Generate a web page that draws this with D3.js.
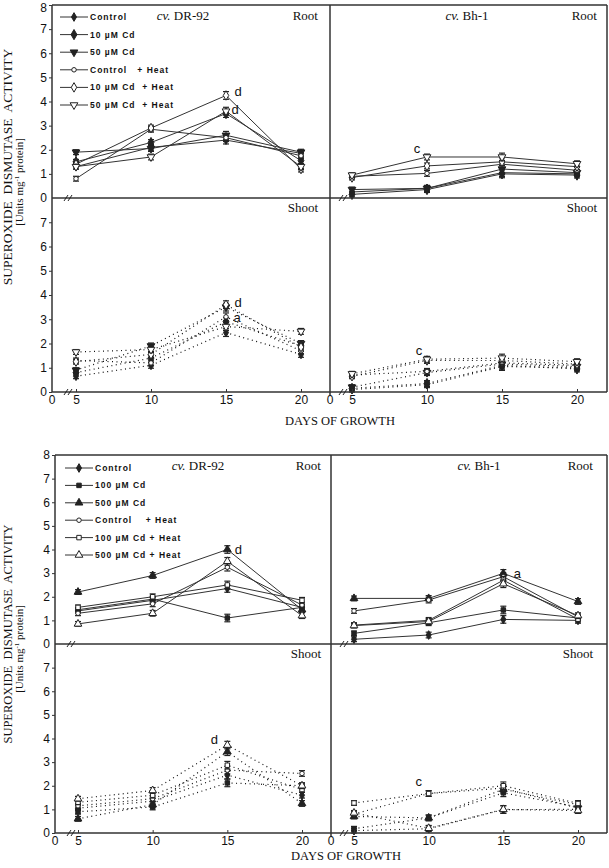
<!DOCTYPE html>
<html><head><meta charset="utf-8">
<script src="https://cdn.jsdelivr.net/npm/d3@7"></script>
<style>body{margin:0;background:#fff} svg{display:block}</style>
</head><body>
<svg id="c" width="609" height="868"></svg>
<script>
// ---------- DATA ----------
const days = [5, 10, 15, 20];
const yTicksRoot = [0, 1, 2, 3, 4, 5, 6, 7, 8];
const yTicksShoot = [0, 1, 2, 3, 4, 5, 6, 7];
const xTickLabels = ["0", "5", "10", "15", "20"];
const yLabel = "SUPEROXIDE  DISMUTASE  ACTIVITY";
const xLabel = "DAYS OF GROWTH";

const legendTop = ["Control", "10 µM Cd", "50 µM Cd", "Control   + Heat", "10 µM Cd  + Heat", "50 µM Cd  + Heat"];
const legendBottom = ["Control", "100 µM Cd", "500 µM Cd", "Control    + Heat", "100 µM Cd + Heat", "500 µM Cd + Heat"];

// Top figure (10/50 µM Cd) — series order follows legendTop
const topDR92Root = [
  [1.3, 2.1, 2.4, 1.85],
  [1.5, 2.3, 3.5, 1.55],
  [1.9, 2.05, 2.6, 1.9],
  [0.8, 2.85, 2.5, 1.75],
  [1.4, 2.9, 4.25, 1.2],
  [1.3, 1.7, 3.6, 1.3]
];
const topBh1Root = [
  [0.25, 0.4, 1.05, 1.0],
  [0.15, 0.35, 1.0, 0.95],
  [0.35, 0.4, 1.2, 1.05],
  [0.9, 1.02, 1.4, 1.15],
  [0.85, 1.33, 1.5, 1.3],
  [0.95, 1.7, 1.7, 1.42]
];
const topDR92Shoot = [
  [0.65, 1.1, 2.45, 1.55],
  [0.8, 1.4, 2.9, 1.9],
  [0.9, 1.9, 3.5, 2.0],
  [1.3, 1.2, 3.1, 1.7],
  [1.25, 1.55, 3.6, 1.85],
  [1.65, 1.75, 2.7, 2.5]
];
const topBh1Shoot = [
  [0.1, 0.3, 1.05, 1.0],
  [0.15, 0.35, 1.1, 0.95],
  [0.2, 0.8, 1.15, 1.05],
  [0.7, 0.85, 1.2, 1.1],
  [0.65, 1.3, 1.3, 1.15],
  [0.75, 1.35, 1.4, 1.25]
];
// Bottom figure (100/500 µM Cd) — series order follows legendBottom
const botDR92Root = [
  [1.4, 1.85, 2.35, 1.55],
  [1.45, 1.9, 1.1, 1.55],
  [2.2, 2.9, 4.0, 1.45],
  [1.3, 1.7, 3.25, 1.65],
  [1.55, 2.0, 2.5, 1.85],
  [0.85, 1.3, 3.5, 1.2]
];
const botBh1Root = [
  [0.2, 0.38, 1.04, 1.0],
  [0.45, 0.9, 1.44, 1.1],
  [1.93, 1.93, 2.99, 1.8],
  [1.4, 1.86, 2.85, 1.15],
  [0.8, 1.0, 2.7, 1.05],
  [0.78, 0.95, 2.55, 1.2]
];
const botDR92Shoot = [
  [1.05, 1.35, 2.45, 1.6],
  [0.9, 1.1, 2.12, 2.0],
  [0.6, 1.2, 3.44, 1.25],
  [1.15, 1.45, 2.66, 2.52],
  [1.3, 1.6, 2.87, 1.84],
  [1.45, 1.8, 3.72, 2.0]
];
const botBh1Shoot = [
  [0.1, 0.18, 0.99, 1.0],
  [0.18, 0.64, 1.7, 1.1],
  [0.7, 0.64, 1.85, 1.2],
  [0.8, 1.67, 1.9, 1.05],
  [1.27, 1.67, 2.0, 1.25],
  [0.85, 0.2, 1.0, 0.95]
];
// error bar half-widths (per day)
const errTop = [0.1, 0.12, 0.16, 0.12];
const errBot = [0.1, 0.12, 0.16, 0.12];

// annotations: [day, value, label, dx]
const annTopDR92Root = [[15, 4.4, "d", 12], [15, 3.65, "d", 9]];
const annTopBh1Root = [[10, 2.07, "c", -10]];
const annTopDR92Shoot = [[15, 3.69, "d", 12], [15, 3.07, "a", 11]];
const annTopBh1Shoot = [[10, 1.7, "c", -8]];
const annBotDR92Root = [[15, 3.98, "d", 11]];
const annBotBh1Root = [[15, 3.0, "a", 14]];
const annBotDR92Shoot = [[15, 3.95, "d", -13]];
const annBotBh1Shoot = [[10, 2.2, "c", -10]];

// ---------- DRAW ----------
const svg = d3.select("#c");
const INK = "#222";

const symTop = [
  {t: d3.symbolDiamond, fill: true, rot: 0, s: 22},
  {t: d3.symbolDiamond, fill: true, rot: 0, s: 30},
  {t: d3.symbolTriangle, fill: true, rot: 180, s: 26},
  {t: d3.symbolCircle, fill: false, rot: 0, s: 16},
  {t: d3.symbolDiamond, fill: false, rot: 0, s: 26},
  {t: d3.symbolTriangle, fill: false, rot: 180, s: 26}
];
const symBot = [
  {t: d3.symbolDiamond, fill: true, rot: 0, s: 22},
  {t: d3.symbolSquare, fill: true, rot: 0, s: 20},
  {t: d3.symbolTriangle, fill: true, rot: 0, s: 26},
  {t: d3.symbolCircle, fill: false, rot: 0, s: 16},
  {t: d3.symbolSquare, fill: false, rot: 0, s: 20},
  {t: d3.symbolTriangle, fill: false, rot: 0, s: 26}
];

function drawSymbol(g, sym, x, y) {
  g.append("path")
    .attr("d", d3.symbol().type(sym.t).size(sym.s)())
    .attr("transform", `translate(${x},${y}) rotate(${sym.rot})`)
    .attr("fill", sym.fill ? INK : "#fff")
    .attr("stroke", INK).attr("stroke-width", 1);
}

function drawSeries(g, data, x, y, syms, dotted, errs) {
  const line = d3.line().x((d, i) => x(days[i])).y(d => y(d));
  data.forEach((s, k) => {
    g.append("path").attr("d", line(s)).attr("fill", "none")
      .attr("stroke", dotted ? "#111" : "#333")
      .attr("stroke-width", dotted ? 1.2 : 1)
      .attr("stroke-dasharray", dotted ? "1,3.5" : null);
  });
  data.forEach((s, k) => {
    s.forEach((v, i) => {
      const cx = x(days[i]);
      const e = errs[i];
      g.append("line").attr("x1", cx).attr("x2", cx).attr("y1", y(v - e)).attr("y2", y(v + e))
        .attr("stroke", INK).attr("stroke-width", 1);
      [v - e, v + e].forEach(w => g.append("line").attr("x1", cx - 3).attr("x2", cx + 3)
        .attr("y1", y(w)).attr("y2", y(w)).attr("stroke", INK).attr("stroke-width", 1.2));
      drawSymbol(g, syms[k], cx, y(v));
    });
  });
}

function breakMark(g, x, y) {
  [0, 4].forEach(o => g.append("line")
    .attr("x1", x + o - 2).attr("y1", y + 3).attr("x2", x + o + 2).attr("y2", y - 3)
    .attr("stroke", INK).attr("stroke-width", 1));
}

function annotate(g, anns, x, y) {
  anns.forEach(a => g.append("text").attr("x", x(a[0]) + a[3]).attr("y", y(a[1]))
    .attr("dominant-baseline", "central").attr("text-anchor", "middle")
    .attr("font-family", "Liberation Sans, Arial, sans-serif").attr("font-size", 13)
    .attr("fill", "#111").text(a[2]));
}

function figure(cfg) {
  const g = svg.append("g");
  const xL = d3.scaleLinear().domain([5, 20]).range(cfg.xLr);
  const xR = d3.scaleLinear().domain([5, 20]).range(cfg.xRr);
  const yRoot = d3.scaleLinear().domain([0, 8]).range([cfg.mid, cfg.top]);
  const yShoot = d3.scaleLinear().domain([0, 8]).range([cfg.bot, cfg.mid]);

  // series
  drawSeries(g, cfg.dRootL, xL, yRoot, cfg.syms, false, cfg.err);
  drawSeries(g, cfg.dRootR, xR, yRoot, cfg.syms, false, cfg.err);
  drawSeries(g, cfg.dShootL, xL, yShoot, cfg.syms, true, cfg.err);
  drawSeries(g, cfg.dShootR, xR, yShoot, cfg.syms, true, cfg.err);

  // frame
  const fr = g.append("g").attr("stroke", "#333").attr("stroke-width", 1.5).attr("fill", "none");
  fr.append("line").attr("x1", cfg.x0).attr("x2", cfg.x0).attr("y1", cfg.top).attr("y2", cfg.bot);
  fr.append("line").attr("x1", cfg.x0).attr("x2", cfg.x1).attr("y1", cfg.top).attr("y2", cfg.top);
  fr.append("line").attr("x1", cfg.x1).attr("x2", cfg.x1).attr("y1", cfg.top).attr("y2", cfg.bot);
  fr.append("line").attr("x1", cfg.xm).attr("x2", cfg.xm).attr("y1", cfg.top).attr("y2", cfg.bot + 3);
  fr.append("line").attr("x1", cfg.x0).attr("x2", cfg.x1).attr("y1", cfg.mid).attr("y2", cfg.mid);
  fr.append("line").attr("x1", cfg.x0).attr("x2", cfg.x1).attr("y1", cfg.bot).attr("y2", cfg.bot);

  // break marks
  [cfg.mid, cfg.bot].forEach(yy => {
    breakMark(g, cfg.x0 + 14, yy);
    breakMark(g, cfg.xm + 11, yy);
  });

  // y axes
  const tickFont = "Liberation Sans, Arial, sans-serif";
  const ax1 = g.append("g").attr("transform", `translate(${cfg.x0},0)`)
    .call(d3.axisLeft(yRoot).tickValues(yTicksRoot.slice(1)).tickSize(3).tickPadding(2).tickFormat(d3.format("d")));
  const ax2 = g.append("g").attr("transform", `translate(${cfg.x0},0)`)
    .call(d3.axisLeft(yShoot).tickValues(yTicksShoot).tickSize(3).tickPadding(2).tickFormat(d3.format("d")));
  [ax1, ax2].forEach(a => {
    a.select(".domain").remove();
    a.selectAll("text").attr("font-family", tickFont).attr("font-size", 12).attr("fill", "#111");
    a.selectAll("line").attr("stroke", "#333");
  });
  // keep the topmost "8" label fully inside the page
  ax1.selectAll("text").filter(d => d === 8).attr("dy", cfg.top < 8 ? "0.55em" : "0.32em");
  // root "0" label at the divider
  g.append("text").attr("x", cfg.x0 - 5).attr("y", yRoot(0)).attr("dy", "0.32em")
    .attr("text-anchor", "end").attr("font-family", tickFont).attr("font-size", 12).attr("fill", "#111").text(yTicksRoot[0]);

  // x axes (shoot panels)
  [[xL, cfg.x0], [xR, cfg.xm]].forEach(([xs, origin]) => {
    const ax = g.append("g").attr("transform", `translate(0,${cfg.bot})`)
      .call(d3.axisBottom(xs).tickValues(days).tickSize(-3).tickPadding(3).tickFormat((d, i) => xTickLabels[i + 1]));
    ax.select(".domain").remove();
    ax.selectAll("text").attr("font-family", tickFont).attr("font-size", 12).attr("fill", "#111");
    ax.selectAll("line").attr("stroke", "#333");
    g.append("text").attr("x", origin).attr("y", cfg.bot + 3).attr("dy", "0.71em")
      .attr("text-anchor", "middle").attr("font-family", tickFont).attr("font-size", 12).attr("fill", "#111").text(xTickLabels[0]);
  });

  // titles
  const serif = "Liberation Serif, Times New Roman, serif";
  function cv(xc, yb, name) {
    const t = g.append("text").attr("x", xc).attr("y", yb).attr("text-anchor", "middle")
      .attr("font-family", serif).attr("font-size", 13).attr("fill", "#111");
    t.append("tspan").attr("font-style", "italic").text("cv.");
    t.append("tspan").text(" " + name);
  }
  cv(cfg.cvL, cfg.top + 15, "DR-92");
  cv(cfg.cvR, cfg.top + 15, "Bh-1");
  [[cfg.rootL, cfg.top + 15, "Root"], [cfg.rootR, cfg.top + 15, "Root"],
   [cfg.rootL, cfg.mid + 14, "Shoot"], [cfg.rootR, cfg.mid + 14, "Shoot"]].forEach(([xx, yy, s]) =>
    g.append("text").attr("x", xx).attr("y", yy).attr("text-anchor", "end")
      .attr("font-family", serif).attr("font-size", 13).attr("fill", "#111").text(s));

  // annotations
  annotate(g, cfg.aRootL, xL, yRoot);
  annotate(g, cfg.aRootR, xR, yRoot);
  annotate(g, cfg.aShootL, xL, yShoot);
  annotate(g, cfg.aShootR, xR, yShoot);

  // legend
  cfg.legend.forEach((lab, i) => {
    const yy = cfg.legY + i * cfg.legStep;
    g.append("line").attr("x1", cfg.legX).attr("x2", cfg.legX + 28).attr("y1", yy).attr("y2", yy)
      .attr("stroke", "#333").attr("stroke-width", 1);
    drawSymbol(g, cfg.syms[i], cfg.legX + 14, yy);
    g.append("text").attr("x", cfg.legX + 30).attr("y", yy).attr("dy", "0.35em")
      .attr("font-family", "Liberation Sans, Arial, sans-serif").attr("font-weight", "bold")
      .attr("font-size", 8.5).attr("letter-spacing", 1).attr("xml:space", "preserve")
      .style("white-space", "pre").attr("fill", "#111").text(lab);
  });

  // axis titles
  g.append("text").attr("transform", `translate(${cfg.yLabX},${cfg.yLabY}) rotate(-90)`)
    .attr("text-anchor", "middle").attr("font-family", serif).attr("font-size", cfg.yLabSize)
    .style("white-space", "pre").attr("fill", "#111").text(yLabel);
  const sub = g.append("text").attr("transform", `translate(${cfg.yLabX + 11},${cfg.yLabY + 15}) rotate(-90)`)
    .attr("text-anchor", "middle").attr("font-family", serif).attr("font-size", 11).attr("fill", "#111");
  sub.append("tspan").text("[Units mg");
  sub.append("tspan").attr("font-size", 7).attr("dy", -4).text("-1");
  sub.append("tspan").attr("dy", 4).text(" protein]");
  g.append("text").attr("x", cfg.xLabX).attr("y", cfg.xLabY).attr("text-anchor", "middle")
    .attr("font-family", serif).attr("font-size", 12.5).attr("fill", "#111").text(xLabel);
}

figure({
  x0: 52, xm: 330, x1: 607, top: 5, mid: 198, bot: 392,
  xLr: [76, 301], xRr: [352, 577],
  dRootL: topDR92Root, dRootR: topBh1Root, dShootL: topDR92Shoot, dShootR: topBh1Shoot,
  aRootL: annTopDR92Root, aRootR: annTopBh1Root, aShootL: annTopDR92Shoot, aShootR: annTopBh1Shoot,
  syms: symTop, err: errTop, legend: legendTop, legX: 60, legY: 17, legStep: 17.6,
  cvL: 183, cvR: 467, rootL: 318, rootR: 597,
  yLabX: 12, yLabY: 167, yLabSize: 13.5, xLabX: 340, xLabY: 425
});
figure({
  x0: 55, xm: 331, x1: 607, top: 455, mid: 644, bot: 833,
  xLr: [78, 302], xRr: [354, 578],
  dRootL: botDR92Root, dRootR: botBh1Root, dShootL: botDR92Shoot, dShootR: botBh1Shoot,
  aRootL: annBotDR92Root, aRootR: annBotBh1Root, aShootL: annBotDR92Shoot, aShootR: annBotBh1Shoot,
  syms: symBot, err: errBot, legend: legendBottom, legX: 65, legY: 468, legStep: 17.4,
  cvL: 198, cvR: 479, rootL: 321, rootR: 593,
  yLabX: 12, yLabY: 634, yLabSize: 12.5, xLabX: 346, xLabY: 860
});
</script>
</body></html>
